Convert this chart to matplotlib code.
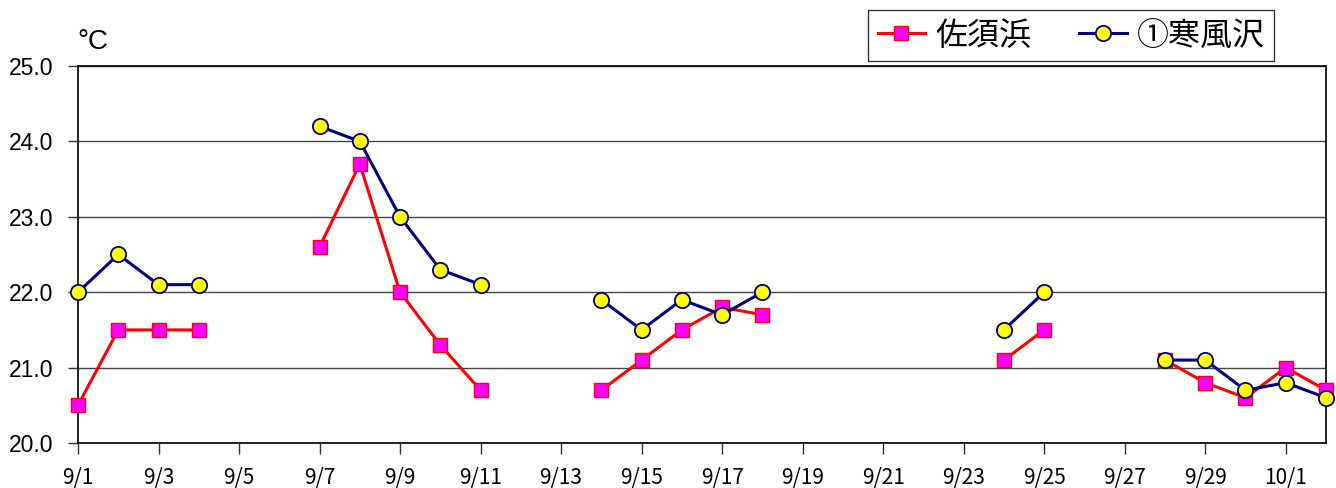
import numpy as np
import matplotlib
matplotlib.use("Agg")
import matplotlib.pyplot as plt

plt.rcParams['font.family'] = ['Noto Sans CJK JP', 'DejaVu Sans']

# 9/1 .. 10/2
days = np.arange(32)
tick_pos = np.arange(0, 31, 2)
tick_labels = ['9/1', '9/3', '9/5', '9/7', '9/9', '9/11', '9/13', '9/15', '9/17',
               '9/19', '9/21', '9/23', '9/25', '9/27', '9/29', '10/1']

nan = np.nan
sasuhama = [20.5, 21.5, 21.5, 21.5, nan, nan, 22.6, 23.7, 22.0, 21.3, 20.7,
            nan, nan, 20.7, 21.1, 21.5, 21.8, 21.7, nan, nan, nan, nan, nan,
            21.1, 21.5, nan, nan, 21.1, 20.8, 20.6, 21.0, 20.7]
sabusawa = [22.0, 22.5, 22.1, 22.1, nan, nan, 24.2, 24.0, 23.0, 22.3, 22.1,
            nan, nan, 21.9, 21.5, 21.9, 21.7, 22.0, nan, nan, nan, nan, nan,
            21.5, 22.0, nan, nan, 21.1, 21.1, 20.7, 20.8, 20.6]

fig = plt.figure(figsize=(13.36, 4.88), dpi=100)
ax = fig.add_axes([78 / 1336, 1 - 443 / 488, (1326 - 78) / 1336, (443 - 66) / 488])

l1, = ax.plot(days, sasuhama, '-s', color='#ff0000', lw=2.2, markersize=10.5,
              markerfacecolor='#ff00ff', markeredgecolor='#ff0000', markeredgewidth=1.0,
              clip_on=False, zorder=3, label='佐須浜')
l2, = ax.plot(days, sabusawa, '-o', color='#000080', lw=2.2, markersize=11,
              markerfacecolor='#ffff00', markeredgecolor='#000080', markeredgewidth=1.3,
              clip_on=False, zorder=4, label='①寒風沢')

ax.set_xlim(0, 31)
ax.set_ylim(20, 25)
ax.set_yticks(np.arange(20, 25.1, 1))
ax.set_yticklabels([f'{v:.1f}' for v in np.arange(20, 25.1, 1)],
                   fontsize=16.5, family='Liberation Sans')
ax.set_xticks(tick_pos)
ax.set_xticklabels(tick_labels, fontsize=15)
ax.tick_params(axis='x', direction='out', length=8, width=1, color='#333333', pad=9)
ax.tick_params(axis='y', direction='out', length=7, width=1, color='#333333', pad=11)
ax.grid(axis='y', color='#444444', lw=1.0)
ax.set_axisbelow(True)
for s in ax.spines.values():
    s.set_color('black')
    s.set_linewidth(1.2)

fig.text(77 / 1336, 1 - 42 / 488, '°C', fontsize=20, family='Liberation Sans',
         ha='left', va='center')

leg = fig.legend(handles=[l1, l2], loc='upper right', ncol=2,
                 bbox_to_anchor=(1274 / 1336, 1 - 10 / 488),
                 fontsize=23, frameon=True, fancybox=False, edgecolor='black',
                 handlelength=1.5, handletextpad=0.3, columnspacing=1.5,
                 borderpad=0.3, borderaxespad=0.0)
leg.get_frame().set_linewidth(1.0)

fig.savefig('out.png', dpi=100)
